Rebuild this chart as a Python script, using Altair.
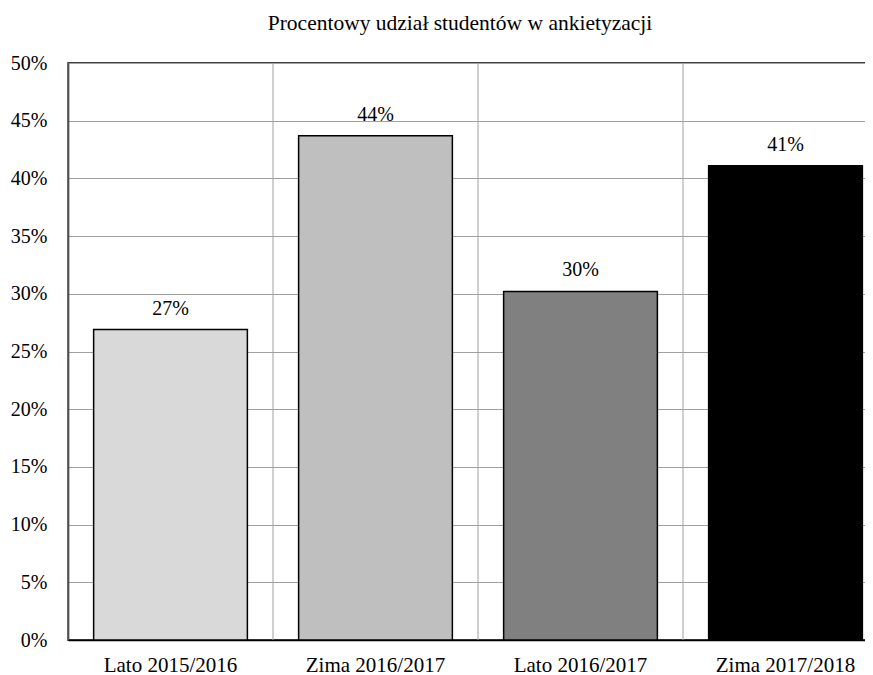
import altair as alt
import pandas as pd

categories = ["Lato 2015/2016", "Zima 2016/2017", "Lato 2016/2017", "Zima 2017/2018"]
values = [0.269, 0.437, 0.302, 0.411]
colors = ["#d9d9d9", "#bfbfbf", "#808080", "#000000"]
title_text = "Procentowy udział studentów w ankietyzacji"

df = pd.DataFrame({"cat": categories, "val": values, "col": colors})

FONT = "Liberation Serif"

x_scale = alt.Scale(paddingInner=0, paddingOuter=0)
x_axis = alt.Axis(labelAngle=0, ticks=False, tickSize=0, labelPadding=14,
                  domainColor="#000000", domainWidth=1.5, grid=False, bandPosition=0.5,
                  labelFont=FONT, labelFontSize=21, labelColor="#000000")

y_enc = alt.Y(
    "val:Q",
    title=None,
    scale=alt.Scale(domain=[0, 0.5], nice=False),
    axis=alt.Axis(format=".0%", values=[i * 0.05 for i in range(11)], ticks=False,
                  tickSize=0, labelPadding=21, grid=True, gridColor="#a0a0a0",
                  gridWidth=1, domainColor="#000000", domainWidth=1.5,
                  labelFont=FONT, labelFontSize=20, labelColor="#000000"),
)

base = alt.Chart(df)

vgrid = base.mark_rule(color="#a0a0a0", strokeWidth=1).encode(
    x=alt.X("cat:N", sort=None, bandPosition=0, title=None, axis=x_axis, scale=x_scale)
)

bars = base.mark_bar(stroke="#000000", strokeWidth=1.5, width={"band": 0.75}).encode(
    x=alt.X("cat:N", sort=None, title=None, axis=x_axis, scale=x_scale),
    y=y_enc,
    color=alt.Color("col:N", scale=None),
)

labels = base.mark_text(baseline="alphabetic", dy=-15, fontSize=20, font=FONT,
                        color="#000000").encode(
    x=alt.X("cat:N", sort=None, title=None, axis=x_axis, scale=x_scale),
    y=alt.Y("val:Q"),
    text=alt.Text("val:Q", format=".0%"),
)

chart = (
    alt.layer(vgrid, bars, labels)
    .properties(
        width=820,
        height=577,
        title=alt.TitleParams(title_text, font=FONT, fontSize=21.5, fontWeight="normal",
                              color="#000000", anchor="middle", baseline="alphabetic",
                              offset=2, dx=-18),
        autosize=alt.AutoSizeParams(type="none"),
        padding={"left": 60, "top": 55, "right": -23, "bottom": 50},
    )
    .configure_view(stroke="#000000", strokeWidth=1.5)
)

chart.save("out.html", embed_options={"renderer": "svg", "actions": False})
